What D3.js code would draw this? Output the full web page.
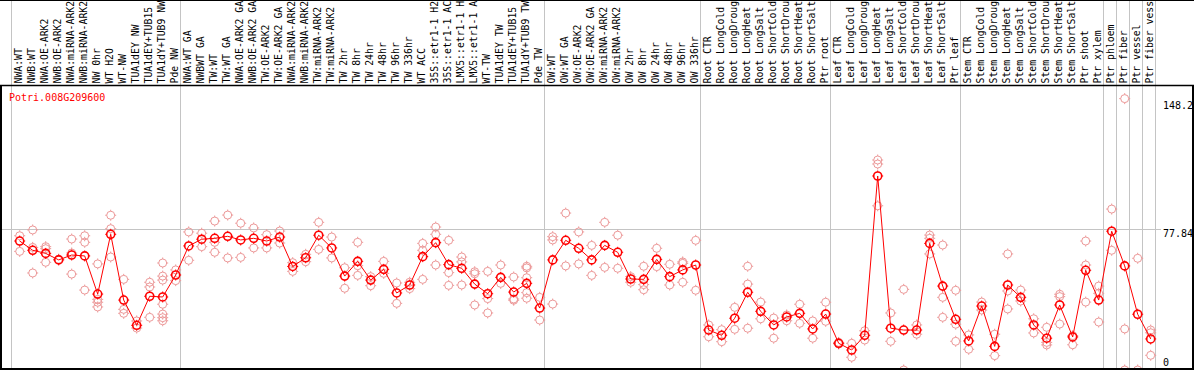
<!DOCTYPE html>
<html>
<head>
<meta charset="utf-8">
<script src="https://cdn.jsdelivr.net/npm/d3@7"></script>
<style>
  body { margin: 0; background: #fff; }
  svg { display: block; }
  text { font-family: "DejaVu Sans Mono", monospace; font-size: 10px; }
</style>
</head>
<body>
<div id="chart"></div>
<script>
const gene = 'Potri.008G209600'

// sample names as they show in the header (long ones are cut in the original)
const samples = [
  'NWA:WT', 'NWB:WT', 'NWA:OE-ARK2', 'NWB:OE-ARK2', 'NWA:miRNA-ARK2', 'NWB:miRNA-ARK2',
  'NW 0hr', 'WT H2O', 'WT-NW', 'TUA1dEY NW', 'TUA1dEY+TUB15', 'TUA1dY+TUB9 NW', 'Pde NW',
  'NWA:WT GA', 'NWBWT GA', 'TW:WT', 'TW:WT GA', 'NWA:OE-ARK2 GA', 'NWB:OE-ARK2 GA',
  'TW:OE-ARK2', 'TW:OE-ARK2 GA', 'NWA:miRNA-ARK2', 'NWB:miRNA-ARK2', 'TW:miRNA-ARK2',
  'TW:miRNA-ARK2', 'TW 2hr', 'TW 8hr', 'TW 24hr', 'TW 48hr', 'TW 96hr', 'TW 336hr', 'WT ACC',
  '35S::etr1-1 H2', '35S::etr1-1 AC', 'LMX5::etr1-1 H', 'LMX5::etr1-1 A', 'WT-TW',
  'TUA1dEY TW', 'TUA1dEY+TUB15', 'TUA1dY+TUB9 TW', 'Pde TW',
  'OW:WT', 'OW:WT GA', 'OW:OE-ARK2', 'OW:OE-ARK2 GA', 'OW:miRNA-ARK2', 'OW:miRNA-ARK2',
  'OW 2hr', 'OW 8hr', 'OW 24hr', 'OW 48hr', 'OW 96hr', 'OW 336hr',
  'Root CTR', 'Root LongCold', 'Root LongDroug', 'Root LongHeat', 'Root LongSalt',
  'Root ShortCold', 'Root ShortDrou', 'Root ShortHeat', 'Root ShortSalt', 'Ptr root',
  'Leaf CTR', 'Leaf LongCold', 'Leaf LongDroug', 'Leaf LongHeat', 'Leaf LongSalt',
  'Leaf ShortCold', 'Leaf ShortDrou', 'Leaf ShortHeat', 'Leaf ShortSalt', 'Ptr leaf',
  'Stem CTR', 'Stem LongCold', 'Stem LongDroug', 'Stem LongHeat', 'Stem LongSalt',
  'Stem ShortCold', 'Stem ShortDrou', 'Stem ShortHeat', 'Stem ShortSalt', 'Ptr shoot', 'Ptr xylem',
  'Ptr phloem', 'Ptr fiber', 'Ptr vessel', 'Ptr fiber vess'
]

// index of the first sample of each group (grey separator drawn before it)
const groupStarts = [0, 13, 41, 53, 63, 73, 84, 85, 86, 87]

const means = [
  71.0, 65.9, 64.2, 60.6, 63.3, 62.8, 41.8, 74.7, 38.5, 24.6, 40.6, 40.2, 52.3,
  68.3, 72.0, 72.5, 73.6, 71.6, 72.5, 71.0, 73.2, 57.0, 61.8, 74.2, 67.2, 51.7, 59.8,
  49.5, 55.4, 42.4, 46.8, 62.4, 70.1, 58.0, 56.0, 47.3, 42.0, 51.0, 42.9, 47.7, 34.1,
  60.6, 71.4, 67.0, 60.6, 68.6, 64.8, 50.1, 49.9, 60.9, 51.4, 55.1, 57.8,
  22.0, 19.1, 28.5, 42.8, 32.3, 24.8, 29.2, 31.2, 22.6, 30.8,
  14.7, 11.0, 19.1, 106.8, 23.0, 22.0, 22.0, 69.7, 46.2, 27.9,
  16.0, 35.2, 13.0, 46.8, 40.0, 24.8, 17.5, 35.8, 18.2, 54.9, 38.5,
  76.4, 57.3, 30.7, 17.1
]

const replicates = [
  [73.9, 65.3], [77.1, 67.5, 53.4], [67.9, 66.8, 59.3], [61.0], [72.1, 64.4, 52.8],
  [73.9, 70.3, 44.0], [58.4, 38.9, 37.3, 34.7], [85.2, 77.8, 62.2], [49.9, 33.4, 31.2],
  [27.0, 23.1], [48.3, 45.7, 29.0], [58.9, 51.7, 49.5, 36.2, 30.8, 28.8, 27.1], [55.1, 49.2],
  [76.0, 60.4], [75.3, 67.9], [82.0, 70.3, 64.8], [85.3, 61.7], [80.8, 62.0], [78.2, 67.2],
  [74.5, 67.2], [76.5, 69.9], [59.1, 54.3], [63.7, 59.6], [81.3, 66.4], [73.2, 61.7],
  [56.3, 45.0], [70.3, 57.4, 52.1], [51.4, 46.4], [59.8, 53.2], [47.9, 36.7], [48.3, 44.8],
  [69.7, 65.9, 49.9], [78.7, 74.7, 57.8], [71.4, 53.6, 46.6], [62.2, 59.5, 46.8],
  [54.1, 53.0, 35.8], [54.3, 39.3, 31.4], [57.8, 47.7], [51.2, 39.1, 38.4],
  [57.1, 56.2, 50.8, 42.6, 39.5], [40.0, 27.5],
  [73.4, 71.6, 36.3], [86.4, 57.3], [76.0, 58.4], [68.6, 52.1], [81.3, 56.5], [74.2, 56.0],
  [51.4, 48.3], [57.1, 47.0, 44.2], [67.0, 56.9], [58.2, 46.8], [59.5, 58.7, 48.3], [71.4, 43.9],
  [24.8, 18.3], [22.2, 15.6], [34.5, 22.4], [57.1, 47.3, 23.0], [37.4, 28.2], [28.6, 17.5],
  [30.3, 27.1], [36.2, 25.7], [27.0, 17.5], [37.3, 26.8],
  [15.2, 14.3], [14.7, 7.0], [21.6, 16.5], [115.6, 113.4, 90.4], [31.4, 15.8], [44.4, 0],
  [24.8, 19.7], [74.3, 72.5, 63.9], [68.8, 40.0, 29.0], [43.9, 25.2, 15.8],
  [19.3, 11.4], [37.4, 33.0], [19.7, 7.9], [63.9, 43.5, 33.6], [44.0, 38.0], [28.2, 20.4],
  [23.5, 15.2, 13.8], [41.7, 40.4, 25.3], [18.9, 13.9], [71.0, 57.8, 37.4], [46.2, 42.2, 26.4],
  [88.6, 65.9], [149.4, 22.6, 0], [61.5, 0], [22.0, 20.5, 8.1]
]

const yLabels = [148.2, 77.84, 0]
const refLine = 77.84

const width = 1194
const height = 370
const headerBottom = 85
const plotBottom = 369
const plotRight = 1193
const lineColor = '#ff0000'
const repColor = '#ec9898'
const gridColor = '#c4c4c4'

const svg = d3.select('#chart').append('svg')
  .attr('width', width)
  .attr('height', height)

const x = d3.scaleBand()
  .domain(d3.range(samples.length))
  .range([11, 11 + 13 * samples.length])
const cx = i => x(i) + 8.7

const y = d3.scaleLinear()
  .domain([0, 148.2])
  .range([370, 370 - 148.2 * 1.8165])

svg.append('clipPath').attr('id', 'plotclip')
  .append('rect')
  .attr('x', 2).attr('y', headerBottom + 1)
  .attr('width', plotRight - 3).attr('height', plotBottom - headerBottom - 2)

// grey group separators, full height
const seps = groupStarts.map(i => x(i)).concat([x(samples.length - 1) + x.bandwidth()])
svg.append('g')
  .selectAll('line')
  .data(seps)
  .join('line')
  .attr('x1', d => d + 0.5).attr('x2', d => d + 0.5)
  .attr('y1', 0).attr('y2', plotBottom)
  .attr('stroke', gridColor)
  .attr('stroke-width', 1)

// reference line
svg.append('line')
  .attr('x1', 2).attr('x2', 1161)
  .attr('y1', Math.round(y(refLine)) + 0.5).attr('y2', Math.round(y(refLine)) + 0.5)
  .attr('stroke', gridColor)

// header labels
svg.append('g')
  .selectAll('text')
  .data(samples)
  .join('text')
  .attr('transform', (d, i) => `translate(${cx(i) + 2.4}, 83.5) rotate(-90)`)
  .style('font-size', '9.8px')
  .attr('fill', '#000')
  .text(d => d)

// borders
svg.append('line').attr('x1', 0).attr('x2', width).attr('y1', 0.5).attr('y2', 0.5)
  .attr('stroke', '#000')
svg.append('line').attr('x1', 0).attr('x2', width).attr('y1', headerBottom + 0.5).attr('y2', headerBottom + 0.5)
  .attr('stroke', '#000').attr('stroke-width', 1.5)
svg.append('line').attr('x1', 1).attr('x2', 1).attr('y1', headerBottom).attr('y2', plotBottom + 1)
  .attr('stroke', '#000').attr('stroke-width', 2)
svg.append('line').attr('x1', plotRight).attr('x2', plotRight).attr('y1', headerBottom).attr('y2', plotBottom + 1)
  .attr('stroke', '#000').attr('stroke-width', 2)
svg.append('line').attr('x1', 0).attr('x2', width).attr('y1', plotBottom).attr('y2', plotBottom)
  .attr('stroke', '#000').attr('stroke-width', 2)

// title
svg.append('text')
  .attr('x', 9)
  .attr('y', 100.5)
  .attr('fill', lineColor)
  .text(gene)

// y labels on the right
svg.append('g')
  .selectAll('text')
  .data(yLabels)
  .join('text')
  .attr('x', 1163)
  .attr('y', d => d === 0 ? y(d) - 4 : y(d) + 8)
  .attr('fill', '#000')
  .text(d => d)

const plot = svg.append('g').attr('clip-path', 'url(#plotclip)')

function marker(g, color, sw) {
  g.append('circle')
    .attr('r', 4)
    .attr('fill', 'none')
    .attr('stroke', color)
    .attr('stroke-width', sw)
  g.selectAll('line.stub')
    .data([0, 90, 180, 270])
    .join('line')
    .attr('class', 'stub')
    .attr('x1', 0).attr('y1', -4)
    .attr('x2', 0).attr('y2', -5.5)
    .attr('transform', a => `rotate(${a})`)
    .attr('stroke', color)
    .attr('stroke-width', 1)
}

const repPoints = replicates.flatMap((vals, i) => vals.map(v => ({ i, v })))

plot.append('g')
  .selectAll('g')
  .data(repPoints)
  .join('g')
  .attr('transform', d => `translate(${cx(d.i)}, ${y(d.v)})`)
  .each(function () { marker(d3.select(this), repColor, 1) })

const line = d3.line()
  .x((d, i) => cx(i))
  .y(d => y(d))

plot.append('path')
  .datum(means)
  .attr('fill', 'none')
  .attr('stroke', lineColor)
  .attr('stroke-width', 1)
  .attr('d', line)

plot.append('g')
  .selectAll('g')
  .data(means)
  .join('g')
  .attr('transform', (d, i) => `translate(${cx(i)}, ${y(d)})`)
  .each(function () { marker(d3.select(this), lineColor, 1.6) })
</script>
</body>
</html>
